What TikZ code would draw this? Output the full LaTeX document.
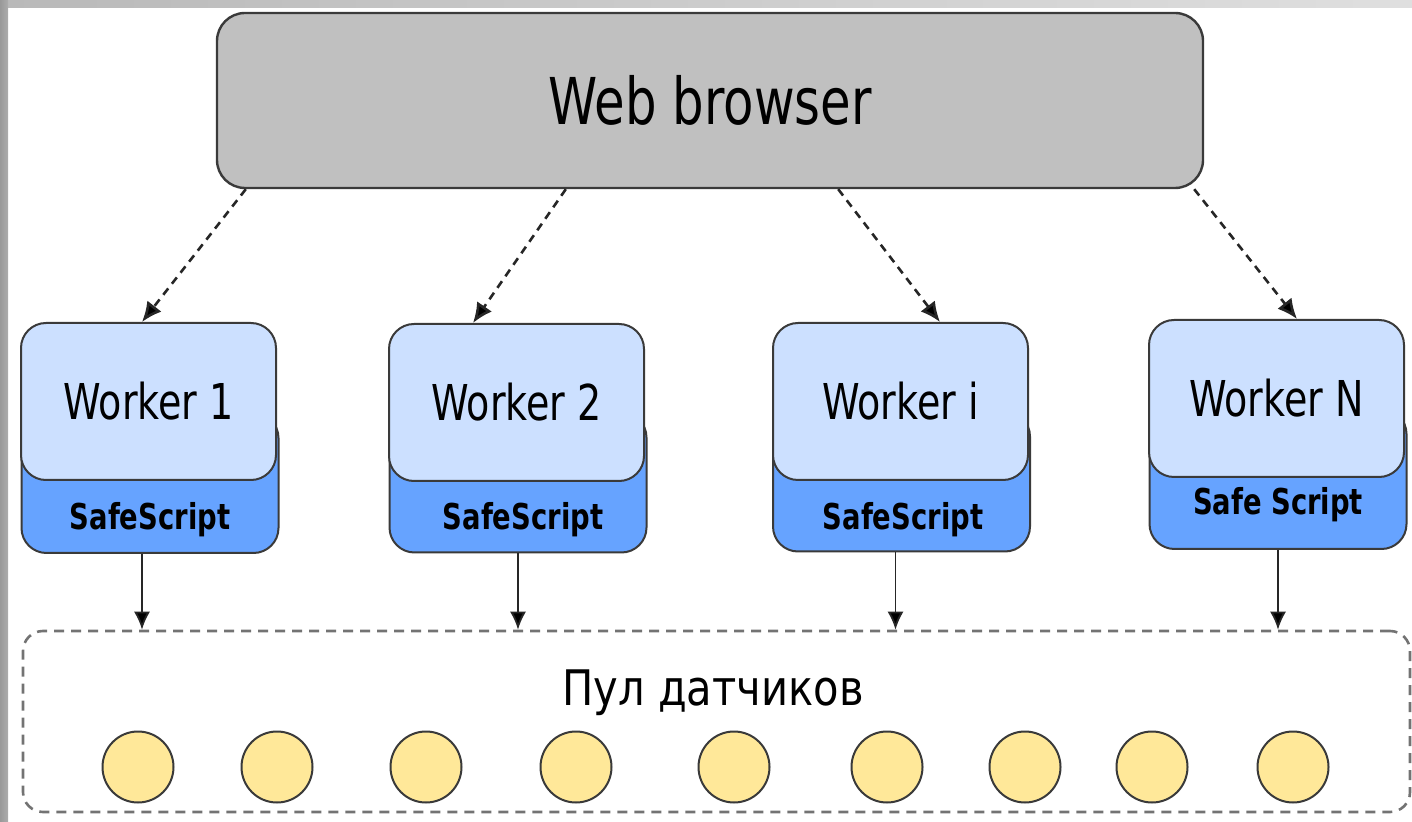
\documentclass[tikz,border=0pt]{standalone}
\usepackage{fontspec}
\setmainfont{DejaVu Sans}[FakeStretch=0.77]
\newfontfamily\poolfont{DejaVu Sans}[FakeStretch=0.85]
\usepackage{tikz}
\usetikzlibrary{arrows.meta}

\definecolor{browsergray}{HTML}{C0C0C0}
\definecolor{workerblue}{HTML}{CCE0FF}
\definecolor{scriptblue}{HTML}{66A3FF}
\definecolor{sensoryellow}{HTML}{FFE899}
\definecolor{edgegray}{HTML}{3A3A3A}

\begin{document}
\begin{tikzpicture}[x=0.5pt,y=-0.5pt,
  browser/.style={draw=edgegray,line width=1.2pt,fill=browsergray,rounded corners=14pt,
    minimum width=493pt,minimum height=87.5pt,font=\fontsize{32.3}{38}\selectfont},
  worker/.style={draw=edgegray,line width=1pt,fill=workerblue,rounded corners=12.5pt,
    minimum width=127.5pt,minimum height=78.5pt,font=\fontsize{24.7}{30}\selectfont},
  script/.style={draw=edgegray,line width=1pt,fill=scriptblue,rounded corners=12.5pt,
    minimum width=128.5pt,minimum height=70pt},
  scriptlabel/.style={anchor=base,font=\bfseries\fontsize{17.8}{21}\selectfont},
  pool/.style={draw=gray!90!black,line width=1.3pt,dash pattern=on 5pt off 3.5pt,
    rounded corners=10pt,minimum width=693.5pt,minimum height=90.5pt},
  sensor/.style={circle,draw=edgegray,line width=1pt,fill=sensoryellow,
    minimum size=35.5pt,inner sep=0pt},
  call/.style={draw=black!85,line width=1.3pt,dash pattern=on 4pt off 3pt,
    -{Latex[length=10pt,width=9pt,fill=black]}},
  feed/.style={draw=black!85,line width=0.9pt,-{Latex[length=9pt,width=8pt,fill=black]}}
]
\useasboundingbox (0,0) rectangle (1412,822);

% frame strips
\shade[left color=gray!55,right color=gray!25] (0,0) rectangle (1412,8);
\shade[left color=gray!80,right color=gray!65] (0,0) rectangle (8,822);

% browser
\node[browser] (wb) at (710,100.5) {Web browser};

% workers, the script box sits behind each one
\node[script] (s1) at (150,483) {};
\node[worker] (w1) at (148.5,401.5) {Worker 1};
\node[scriptlabel] (l1) at (150,530) {SafeScript};

\node[script] (s2) at (518,482.5) {};
\node[worker] (w2) at (516.5,402.5) {Worker 2};
\node[scriptlabel] (l2) at (523,530) {SafeScript};

\node[script] (si) at (901.5,481.5) {};
\node[worker] (wi) at (900.5,401.5) {Worker i};
\node[scriptlabel] (li) at (903,530) {SafeScript};

\node[script] (sN) at (1278,479) {};
\node[worker] (wN) at (1276.5,398.5) {Worker N};
\node[scriptlabel] (lN) at (1278,515) {Safe Script};

% sensor pool
\node[pool] (pool) at (716.5,721.5) {};
\node[anchor=base,font=\poolfont\fontsize{24.5}{30}\selectfont] (pooltitle) at (713,705) {Пул датчиков};
\node[sensor] (d1) at (138,767) {};
\node[sensor] (d2) at (277,767) {};
\node[sensor] (d3) at (426,767) {};
\node[sensor] (d4) at (576,767) {};
\node[sensor] (d5) at (734,767) {};
\node[sensor] (d6) at (887,767) {};
\node[sensor] (d7) at (1025,767) {};
\node[sensor] (d8) at (1152,767) {};
\node[sensor] (d9) at (1293,767) {};

% browser -> workers
\draw[call] ([xshift=15pt]wb.south west) -- ([xshift=-3.25pt]w1.north);
\draw[call] ([xshift=175pt]wb.south west) -- ([xshift=-21.75pt]w2.north);
\draw[call] ([xshift=-183pt]wb.south east) -- ([xshift=19.75pt]wi.north);
\draw[call] ([xshift=-5pt]wb.south east) -- ([xshift=10.25pt]wN.north);

% workers -> pool
\draw[feed] ([xshift=-4pt]s1.south) -- ([xshift=-4pt]s1.south |- pool.north);
\draw[feed] (s2.south) -- (s2.south |- pool.north);
\draw[feed] ([xshift=-3pt]si.south) -- ([xshift=-3pt]si.south |- pool.north);
\draw[feed] (sN.south) -- (sN.south |- pool.north);

\end{tikzpicture}
\end{document}
